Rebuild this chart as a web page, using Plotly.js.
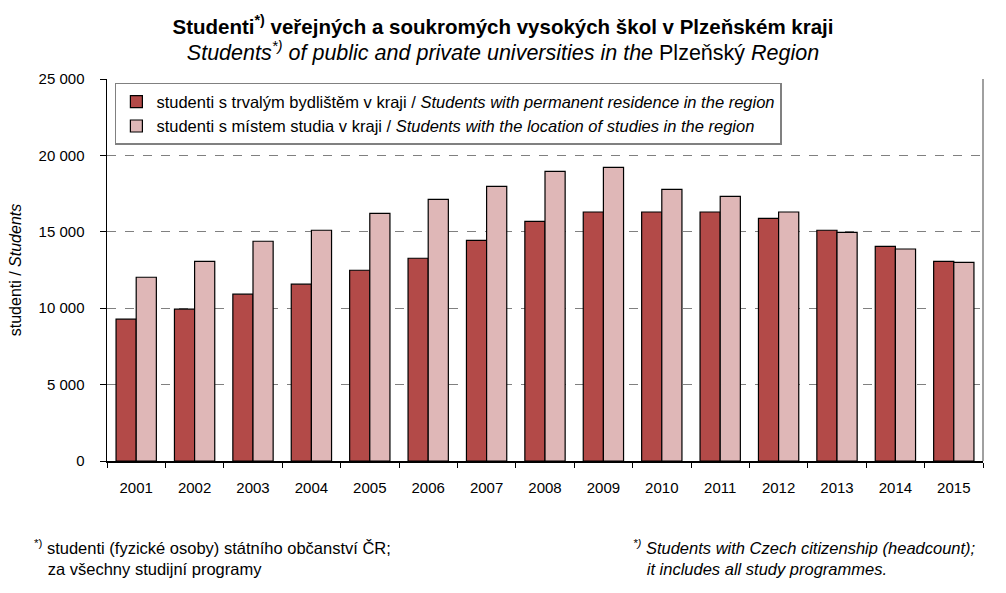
<!DOCTYPE html>
<html><head><meta charset="utf-8">
<script src="https://cdn.plot.ly/plotly-3.0.1.min.js"></script>
<style>body{margin:0;background:#fff}#c{width:1006px;height:593px}</style>
</head><body><div id="c"></div>
<script>
const years = ['2001','2002','2003','2004','2005','2006','2007','2008','2009','2010','2011','2012','2013','2014','2015'];
const residence = [9280, 9935, 10915, 11570, 12485, 13270, 14445, 15685, 16295, 16295, 16295, 15880, 15100, 14050, 13070];
const studyLocation = [12025, 13070, 14380, 15100, 16210, 17125, 17975, 18955, 19215, 17780, 17320, 16295, 14965, 13875, 13005];
const yTicks = [0, 5000, 10000, 15000, 20000, 25000];

const F = 'Arial, "Liberation Sans", sans-serif';
const traces = [
  {type:'bar', x:years, y:residence, name:'studenti s trvalým bydlištěm v kraji / <i>Students with permanent residence in the region</i>',
   marker:{color:'#B34A48', line:{color:'#000', width:1.2}}},
  {type:'bar', x:years, y:studyLocation, name:'studenti s místem studia v kraji / <i>Students with the location of studies in the region</i>',
   marker:{color:'#DFB7B7', line:{color:'#000', width:1.2}}}
];
const layout = {
  width:1006, height:593,
  margin:{l:107, r:23, t:79, b:132},
  paper_bgcolor:'#fff', plot_bgcolor:'#fff',
  font:{family:F, size:16, color:'#000'},
  separators:', ',
  barmode:'group', bargap:0.31, bargroupgap:0,
  title:{text:'<b>Studenti<sup>*)</sup> veřejných a soukromých vysokých škol v Plzeňském kraji</b><br><span style="font-size:21.5px"><i>Students<sup>*)</sup> of public and private universities in the </i>Plzeňský<i> Region</i></span>',
    x:0.5, xanchor:'center', y:0.943, yanchor:'top', yref:'container', font:{family:F, size:20.5}},
  xaxis:{type:'category', showline:true, linecolor:'#000', linewidth:1.5, ticks:'outside', tickson:'boundaries',
    ticklen:5, tickcolor:'#000', tickfont:{size:15}, showgrid:false, ticklabelstandoff:12},
  yaxis:{range:[0,25000], tickvals:yTicks, tickformat:',d', showline:true, linecolor:'#000', linewidth:1.5,
    ticks:'outside', ticklen:6, tickcolor:'#000', tickfont:{size:15}, ticklabelstandoff:12,
    showgrid:true, gridcolor:'#808080', griddash:'dash', gridwidth:1, zeroline:false,
    title:{text:'studenti / <i>Students</i>', font:{size:16}, standoff:13}},
  legend:{x:0.009, y:0.99, xanchor:'left', yanchor:'top', bgcolor:'#fff', bordercolor:'#808080', borderwidth:1.5,
    font:{size:16.5}, tracegroupgap:2, itemwidth:30},
  shapes:[{type:'line', xref:'paper', yref:'paper', x0:1, x1:1, y0:0, y1:1, line:{color:'#808080', width:1.5}}],
  annotations:[
    {xref:'paper', yref:'paper', x:-0.086, y:-0.195, xanchor:'left', yanchor:'top', align:'left', showarrow:false,
     text:'<sup>*)</sup> studenti (fyzické osoby) státního občanství ČR;<br>   za všechny studijní programy', font:{size:16.5}},
    {xref:'paper', yref:'paper', x:0.598, y:-0.195, xanchor:'left', yanchor:'top', align:'left', showarrow:false,
     text:'<i><sup>*)</sup> Students with Czech citizenship (headcount);<br>   it includes all study programmes.</i>', font:{size:16.5}}
  ]
};
Plotly.newPlot('c', traces, layout, {displayModeBar:false, staticPlot:true});
</script></body></html>
